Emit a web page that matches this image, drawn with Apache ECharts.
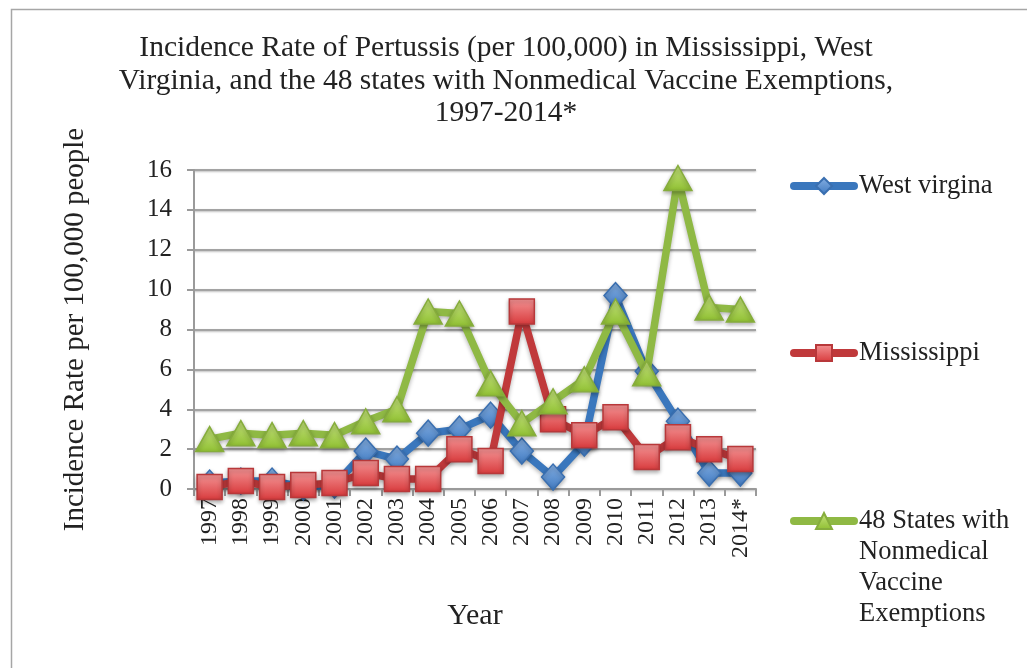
<!DOCTYPE html>
<html>
<head>
<meta charset="utf-8">
<title>Pertussis incidence</title>
<script src="https://cdn.jsdelivr.net/npm/echarts@6/dist/echarts.min.js"></script>
<style>
  html, body { margin: 0; padding: 0; background: #fff; }
  #chart { width: 1027px; height: 668px; }
</style>
</head>
<body>
<div id="chart"></div>
<script>
  const years = ['1997', '1998', '1999', '2000', '2001', '2002', '2003', '2004', '2005',
    '2006', '2007', '2008', '2009', '2010', '2011', '2012', '2013', '2014*']
  const westVirginia = [0.3, 0.4, 0.4, 0.1, 0.2, 1.9, 1.5, 2.8, 3.0, 3.7, 1.9, 0.6, 2.3, 9.7, 5.9, 3.4, 0.8, 0.8]
  const mississippi = [0.1, 0.4, 0.1, 0.2, 0.3, 0.8, 0.5, 0.5, 2.0, 1.4, 8.9, 3.5, 2.7, 3.6, 1.6, 2.6, 2.0, 1.5]
  const states48 = [2.5, 2.8, 2.7, 2.8, 2.7, 3.4, 4.0, 8.9, 8.8, 5.3, 3.3, 4.4, 5.5, 8.9, 5.8, 15.6, 9.1, 9.0]
  const seriesNames = ['West virgina', 'Mississippi', '48 States with\nNonmedical\nVaccine\nExemptions']

  const FONT = "'Liberation Serif', 'Times New Roman', serif"
  const TEXT = '#222'

  const grad = (top, bottom) => new echarts.graphic.LinearGradient(0, 0, 0, 1, [
    { offset: 0, color: top }, { offset: 1, color: bottom },
  ])

  // line color, marker gradient, marker border, symbol
  const styles = [
    { line: '#3a77bd', top: '#86b0e3', bottom: '#3f79c0', border: '#3a6fb0', symbol: 'diamond', size: [23, 26] },
    { line: '#c0393b', top: '#f49495', bottom: '#d83a3c', border: '#b8383a', symbol: 'rect', size: [25, 25] },
    { line: '#8fb944', top: '#c6e47e', bottom: '#8fbf32', border: '#86ad3c', symbol: 'triangle', size: [28, 25] },
  ]

  const seriesData = [westVirginia, mississippi, states48]

  const chart = echarts.init(document.getElementById('chart'), null, { renderer: 'canvas' })

  // vertical centre of each legend icon
  const legendCenters = [186, 353, 521]

  chart.setOption({
    animation: false,
    textStyle: { fontFamily: FONT, color: TEXT },
    title: {
      text: 'Incidence Rate of Pertussis (per 100,000) in Mississippi, West\nVirginia, and the 48 states with Nonmedical Vaccine Exemptions,\n1997-2014*',
      left: 506,
      top: 32,
      padding: 0,
      textAlign: 'center',
      textStyle: { fontFamily: FONT, fontSize: 29.5, fontWeight: 'normal', color: TEXT, lineHeight: 32.5 },
    },
    graphic: [{
      type: 'rect', left: 9, top: 7,
      shape: { width: 1040, height: 690 },
      style: { fill: 'none', stroke: '#a6a6a6', lineWidth: 1.5 },
      silent: true, z: -1,
    }],
    legend: seriesNames.map((name, i) => ({
      data: [name],
      orient: 'vertical',
      left: 790,
      top: i === 2 ? legendCenters[i] - 108.5 : legendCenters[i] - 15,
      padding: 0,
      itemWidth: 60,
      itemHeight: 20,
      selectedMode: false,
      lineStyle: { width: 8, cap: 'round' },
      formatter: n => (i === 2 ? '\n\n\n' + n : n),
      textStyle: { fontFamily: FONT, fontSize: 26.5, color: TEXT, lineHeight: i === 2 ? 31 : 30 },
    })),
    grid: { left: 194, right: 271, top: 170, bottom: 179, containLabel: false },
    xAxis: {
      type: 'category',
      data: years,
      boundaryGap: true,
      name: 'Year',
      nameLocation: 'middle',
      nameGap: 112,
      nameTextStyle: { fontFamily: FONT, fontSize: 30, color: TEXT },
      axisLine: { lineStyle: { color: '#9a9a9a', width: 2 } },
      axisTick: { show: true, length: 7, alignWithLabel: false, lineStyle: { color: '#9a9a9a', width: 2 } },
      axisLabel: { rotate: 90, fontFamily: FONT, fontSize: 24, color: TEXT, margin: 9, interval: 0 },
    },
    yAxis: {
      type: 'value',
      min: 0,
      max: 16,
      interval: 2,
      name: 'Incidence Rate per 100,000 people',
      nameLocation: 'middle',
      nameGap: 104,
      nameTextStyle: { fontFamily: FONT, fontSize: 29, color: TEXT },
      axisLine: { show: true, lineStyle: { color: '#9a9a9a', width: 2 } },
      axisTick: { show: true, length: 7, lineStyle: { color: '#9a9a9a', width: 2 } },
      axisLabel: { fontFamily: FONT, fontSize: 25, color: TEXT, margin: 22 },
      splitLine: {
        show: true,
        lineStyle: { color: '#a3a3a3', width: 2, shadowColor: 'rgba(0,0,0,0.25)', shadowBlur: 2, shadowOffsetY: 1 },
      },
    },
    series: seriesData.map((data, i) => {
      const s = styles[i]
      return {
        name: seriesNames[i],
        type: 'line',
        data,
        symbol: s.symbol,
        symbolSize: s.size,
        showAllSymbol: true,
        lineStyle: { color: s.line, width: 7.5, shadowColor: 'rgba(0,0,0,0.3)', shadowBlur: 4, shadowOffsetY: 2 },
        itemStyle: {
          color: grad(s.top, s.bottom),
          borderColor: s.border,
          borderWidth: 1.5,
          shadowColor: 'rgba(0,0,0,0.3)', shadowBlur: 4, shadowOffsetY: 2,
        },
        emphasis: { disabled: true },
        z: 2 + i,
      }
    }),
  })
</script>
</body>
</html>
